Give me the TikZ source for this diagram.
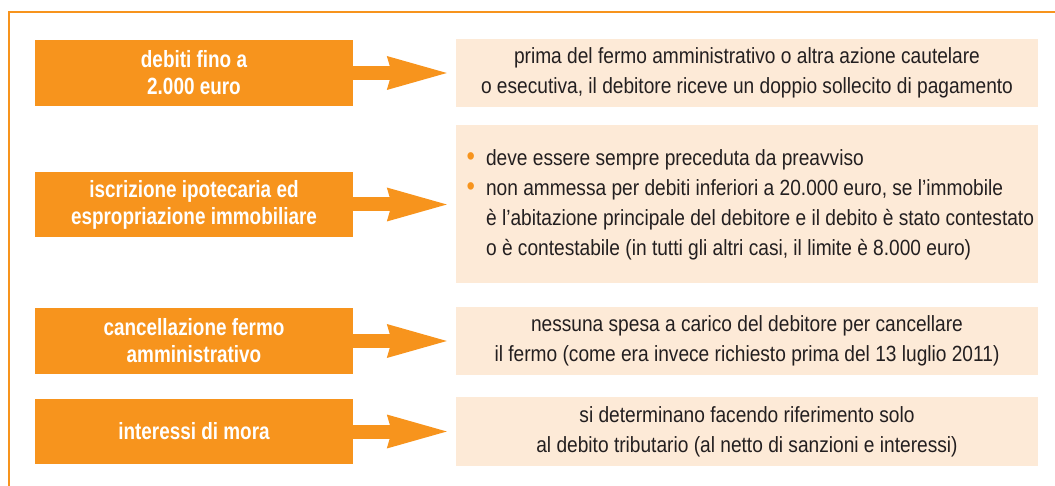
\documentclass[tikz,border=0pt]{standalone}
\usepackage{fontspec}
\setmainfont{Liberation Sans}
\newfontfamily\lightfont{Liberation Sans}[FakeStretch=0.87]
\newfontfamily\orangefont{Liberation Sans}[FakeStretch=0.805]
\usetikzlibrary{arrows.meta}
\definecolor{orng}{HTML}{F7941D}
\definecolor{peach}{HTML}{FDEAD7}
\definecolor{ink}{HTML}{231F20}
\newcommand\bul{\textcolor{orng}{\scalebox{1.25}{•}}}
\tikzset{
  obox/.style={fill=orng, minimum width=318pt, inner sep=0pt, align=center,
    text=white, font=\orangefont\bfseries\fontsize{23.5}{27}\selectfont},
  lbox/.style={fill=peach, minimum width=582pt, inner sep=0pt},
  ltext/.style={text=ink, align=center, inner sep=0pt,
    font=\lightfont\fontsize{22}{30}\selectfont},
  bigarrow/.style={draw=orng, line width=14pt, shorten >=9pt,
    -{Stealth[length=60pt, width=34pt, inset=5pt, line width=0pt, color=orng, fill=orng]}},
  frameline/.style={draw=orng, line width=2pt}
}
\begin{document}
\begin{tikzpicture}[x=1pt, y=-1pt]
\useasboundingbox (0,0) rectangle (1055,486);
% frame
\coordinate (fTL) at (9,12);
\coordinate (fTR) at (1055,12);
\coordinate (fBL) at (9,486);
\draw[frameline] (fTR) -- (fTL) -- (fBL);

% row 1
\node[obox, minimum height=66pt] (o1) at (194,73) {debiti fino a\\2.000 euro};
\node[lbox, minimum height=68pt] (l1) at (747,73) {};
\node[ltext] (t1) at (l1.center) {prima del fermo amministrativo o altra azione cautelare\\o esecutiva, il debitore riceve un doppio sollecito di pagamento};
\draw[bigarrow] (o1.east) -- (o1.east -| l1.west);

% row 2
\node[obox, minimum height=65pt] (o2) at (194,204.5) {iscrizione ipotecaria ed\\espropriazione immobiliare};
\node[lbox, minimum height=158pt] (l2) at (747,204) {};
\node[ltext, anchor=west] (t2) at (466.5,205) {%
\begin{tabular}{@{}l@{\hspace{11pt}}l@{}}
\bul & deve essere sempre preceduta da preavviso\\
\bul & non ammessa per debiti inferiori a 20.000 euro, se l’immobile\\
 & è l’abitazione principale del debitore e il debito è stato contestato\\
 & o è contestabile (in tutti gli altri casi, il limite è 8.000 euro)
\end{tabular}};
\draw[bigarrow] (o2.east) -- (o2.east -| l2.west);

% row 3
\node[obox, minimum height=66pt] (o3) at (194,341) {cancellazione fermo\\amministrativo};
\node[lbox, minimum height=68pt] (l3) at (747,341) {};
\node[ltext] (t3) at (l3.center) {nessuna spesa a carico del debitore per cancellare\\il fermo (come era invece richiesto prima del 13 luglio 2011)};
\draw[bigarrow] (o3.east) -- (o3.east -| l3.west);

% row 4
\node[obox, minimum height=65pt] (o4) at (194,431.5) {interessi di mora};
\node[lbox, minimum height=69pt] (l4) at (747,431.5) {};
\node[ltext] (t4) at (l4.center) {si determinano facendo riferimento solo\\al debito tributario (al netto di sanzioni e interessi)};
\draw[bigarrow] (o4.east) -- (o4.east -| l4.west);
\end{tikzpicture}
\end{document}
